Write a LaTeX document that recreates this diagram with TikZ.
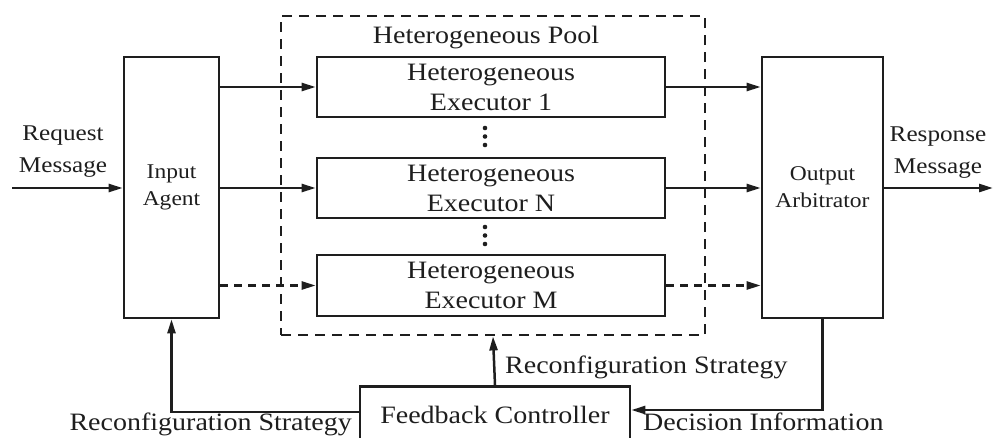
\documentclass[tikz,border=0pt]{standalone}
\usepackage{fontspec}
\setmainfont{Liberation Serif}[FakeStretch=1.12]
\usetikzlibrary{arrows.meta}
\definecolor{ink}{RGB}{30,30,30}
\tikzset{
  box/.style={draw=ink, line width=2.7pt, inner sep=0pt, align=center, text=ink},
  bigtxt/.style={font=\fontsize{25}{30}\selectfont},
  smalltxt/.style={font=\fontsize{21}{27}\selectfont},
  sidetxt/.style={font=\fontsize{22.5}{32}\selectfont, align=center, text=ink, inner sep=0pt},
  lbl/.style={font=\fontsize{25}{30}\selectfont, text=ink, inner sep=0pt},
  arr/.style={draw=ink, line width=2.5pt, -{Triangle[length=14pt,width=8pt]}},
  darr/.style={arr, dash pattern=on 8pt off 6pt},
  pooldash/.style={draw=ink, line width=2.8pt, dash pattern=on 10pt off 7pt},
}
\begin{document}
\begin{tikzpicture}[x=1pt,y=-1pt]
\useasboundingbox (0,0) rectangle (993,437);
\clip (0,0) rectangle (993,437);

% pool
\node[pooldash, minimum width=424pt, minimum height=319pt, inner sep=0pt] (pool) at (493,175.5) {};
\node[lbl, anchor=base] (poollbl) at (486,43) {Heterogeneous Pool};

% main boxes
\node[box, smalltxt, minimum width=95pt, minimum height=261pt] (ia) at (171.5,187.5) {Input\\Agent};
\node[box, smalltxt, minimum width=121pt, minimum height=261pt] (oa) at (822.5,187.5) {Output\\Arbitrator};

\node[box, bigtxt, minimum width=348pt, minimum height=60pt] (e1) at (491,87) {Heterogeneous\\Executor 1};
\node[box, bigtxt, minimum width=348pt, minimum height=60pt] (eN) at (491,188) {Heterogeneous\\Executor N};
\node[box, bigtxt, minimum width=348pt, minimum height=61pt] (eM) at (491,285.5) {Heterogeneous\\Executor M};

% vertical dots
\foreach \yy in {128,136.5,145,227,235.5,244}{
  \fill[ink] (485,\yy) circle (2.3pt);
}

% feedback controller (bottom cut off by the frame)
\node[box, bigtxt, anchor=north, minimum width=270pt, inner ysep=17pt, text height=20pt, text depth=40pt] (fb) at (495,385) {Feedback Controller};

% side texts
\node[sidetxt] (req) at (63,151.5) {Request\\Message};
\node[sidetxt] (resp) at (938,153) {Response\\Message};
\coordinate (inL) at (12,188);
\coordinate (outR) at (993,188);

% connectors
\draw[arr] (inL) -- (inL -| ia.west);
\draw[arr] (oa.east |- outR) -- (outR);

\draw[arr] (ia.east |- e1) -- (e1.west);
\draw[arr] (ia.east |- eN) -- (eN.west);
\draw[darr] (ia.east |- eM) -- (eM.west);

\draw[arr] (e1.east) -- (e1 -| oa.west);
\draw[arr] (eN.east) -- (eN -| oa.west);
\draw[darr] (eM.east) -- (eM -| oa.west);

\draw[arr] (fb.north) -- (pool.south);
\draw[arr] ([yshift=-27pt]fb.north west) -| (ia.south);
\draw[arr] (oa.south) |- ([yshift=-25pt]fb.north east);

% labels
\node[lbl, anchor=base west] (rs1) at (505,373) {Reconfiguration Strategy};
\node[lbl, anchor=base east] (rs2) at (352,430.5) {Reconfiguration Strategy};
\node[lbl, anchor=base west] (di) at (643,430.5) {Decision Information};
\end{tikzpicture}
\end{document}
